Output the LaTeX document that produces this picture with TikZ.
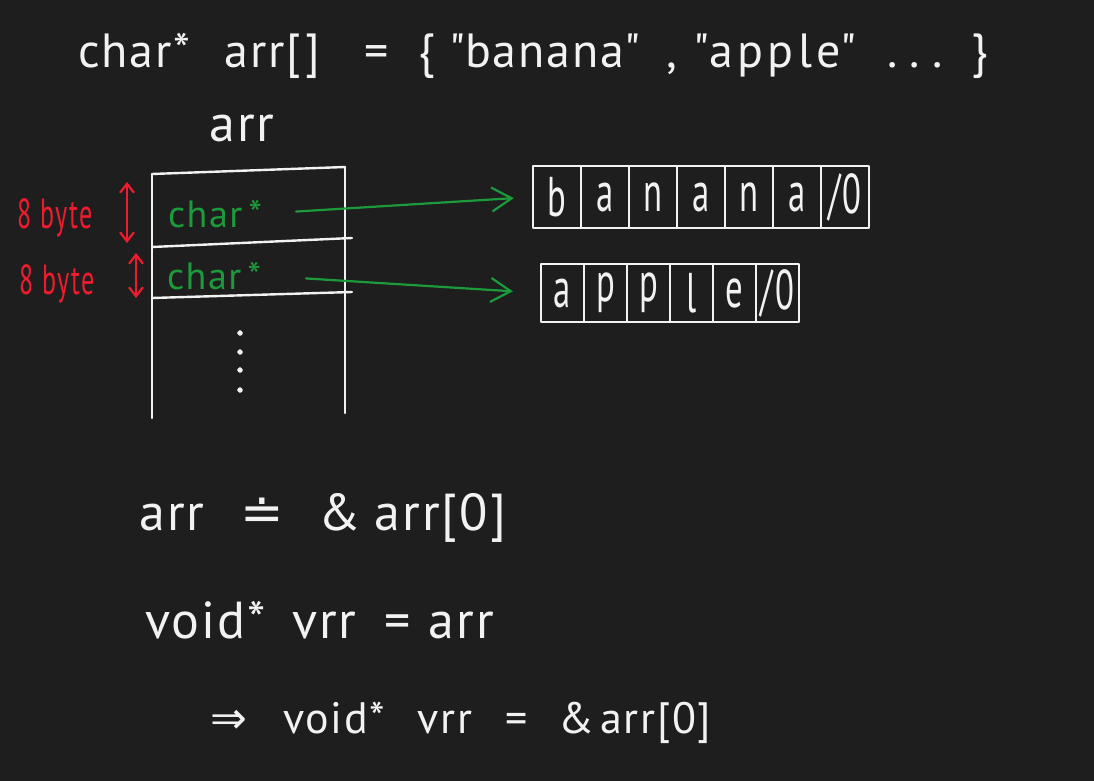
\documentclass[tikz,border=0pt]{standalone}
\usepackage{amsmath, amssymb}
\usepackage{fontspec}
\setmainfont{PT Sans}[LetterSpace=4]
\newfontfamily\tallfont{PT Sans}[FakeStretch=0.62, LetterSpace=4]
\newfontfamily\symfont{DejaVu Sans}
\usepackage{tikz}
\usetikzlibrary{arrows.meta, positioning}

\definecolor{board}{HTML}{1E1E1E}
\definecolor{chalk}{HTML}{F2F2F2}
\definecolor{ptrgreen}{HTML}{1C9A3C}
\definecolor{sizered}{HTML}{EE1C2E}

\begin{document}
\begin{tikzpicture}[x=1pt, y=-1pt, every node/.style={inner sep=0pt, text=chalk}]
  % -----------------------------
  % USER SETTINGS
  % -----------------------------
  \def\W{1094}  % canvas width
  \def\H{781}   % canvas height

  % table columns (left / right edge)
  \def\tl{152}
  \def\tr{345}

  % string cells
  \def\bw{48}   % banana cell width
  \def\aw{43}   % apple cell width

  % -----------------------------
  % STYLES
  % -----------------------------
  \tikzset{
    chalk/.style={draw=chalk, line width=2.4pt, line cap=round, line join=round},
    cell/.style={chalk, minimum height=62pt, font=\tallfont\fontsize{56}{60}\selectfont},
    ptr/.style={text=ptrgreen, font=\fontsize{38}{42}\selectfont},
    bytelab/.style={text=sizered, font=\tallfont\fontsize{42}{46}\selectfont},
    ptrarrow/.style={draw=ptrgreen, line width=2.2pt, line cap=round,
      -{Straight Barb[length=20pt, width=24pt, line width=2.2pt]}},
    sizearrow/.style={draw=sizered, line width=2.2pt, line cap=round,
      {Straight Barb[length=9pt, width=14pt, line width=2.2pt]}-{Straight Barb[length=9pt, width=14pt, line width=2.2pt]}},
    code/.style={anchor=base west, font=\fontsize{52}{58}\selectfont},
  }

  % background
  \fill[board] (0,0) rectangle (\W,\H);

  % -----------------------------
  % DECLARATION
  % -----------------------------
  \node[code, font=\fontsize{48}{54}\selectfont] (decl) at (78,68)
    {char*\hspace{34pt}arr[\hspace{4pt}]\hspace{44pt}=\hspace{30pt}\{\hspace{14pt}\textquotedbl banana\textquotedbl\hspace{26pt},\hspace{16pt}{\addfontfeature{LetterSpace=9}\textquotedbl apple\textquotedbl}\hspace{30pt}{\addfontfeature{LetterSpace=20}...}\hspace{28pt}\}};
  \node[code, anchor=base] (arrname) at (242,142) {arr};

  % -----------------------------
  % POINTER TABLE
  % -----------------------------
  \coordinate (tTL) at (\tl,174);
  \coordinate (tTR) at (\tr,167);
  \coordinate (tBL) at (\tl,418);
  \coordinate (tBR) at (\tr,413);
  \coordinate (r1L) at (\tl,247);
  \coordinate (r1R) at (352,238);
  \coordinate (r2L) at (\tl,298);
  \coordinate (r2R) at (352,292);

  \draw[chalk] (tTL) -- (tTR);
  \draw[chalk] (tTL) -- (tBL);
  \draw[chalk] (tTR) -- (tBR);
  \draw[chalk] (r1L) -- (r1R);
  \draw[chalk] (r2L) -- (r2R);

  % more rows below
  \foreach \y in {333,352,370,390} {
    \fill[chalk] (240,\y) circle (1.8pt);
  }

  \node[ptr, anchor=base] (p0) at (215,227) {char\,*};
  \node[ptr, anchor=base] (p1) at (214,289) {char\,*};

  % -----------------------------
  % SIZE MARKS (8 byte)
  % -----------------------------
  \node[bytelab, anchor=base] (s0) at (55,228) {8 byte};
  \node[bytelab, anchor=base] (s1) at (57,294) {8 byte};

  \coordinate (a0t) at (127,182);
  \coordinate (a0b) at (127,243);
  \coordinate (a1t) at (136,253);
  \coordinate (a1b) at (136,298);
  \draw[sizearrow] (a0t) -- (a0b);
  \draw[sizearrow] (a1t) -- (a1b);

  % -----------------------------
  % STRING LITERALS
  % -----------------------------
  \foreach \c [count=\k from 0] in {b,a,n,a,n,a,/0} {
    \node[cell, minimum width=\bw] (ban\k) at ({557+\k*\bw},197) {\c};
  }
  \foreach \c [count=\k from 0] in {a,p,p,l,e,/0} {
    \node[cell, minimum width=\aw, minimum height=58pt] (app\k) at ({562.5+\k*\aw},293) {\c};
  }

  \draw[ptrarrow, shorten <=34pt, shorten >=18pt] (p0.east) -- (ban0.west);
  \draw[ptrarrow, shorten <=45pt, shorten >=27pt] (p1.east) -- (app0.west);

  % -----------------------------
  % NOTES
  % -----------------------------
  \node[code] (eq1) at (139,530)
    {arr\hspace{36pt}{\symfont ≐}\hspace{34pt}\&\hspace{14pt}arr[0]};
  \node[code] (eq2) at (145,638)
    {void*\hspace{26pt}vrr\hspace{28pt}=\hspace{18pt}arr};
  \node[code, font=\fontsize{44}{50}\selectfont] (eq3) at (210,733)
    {{\symfont ⇒}\hspace{36pt}void*\hspace{32pt}vrr\hspace{34pt}=\hspace{30pt}\&\hspace{6pt}arr[0]};
\end{tikzpicture}
\end{document}
